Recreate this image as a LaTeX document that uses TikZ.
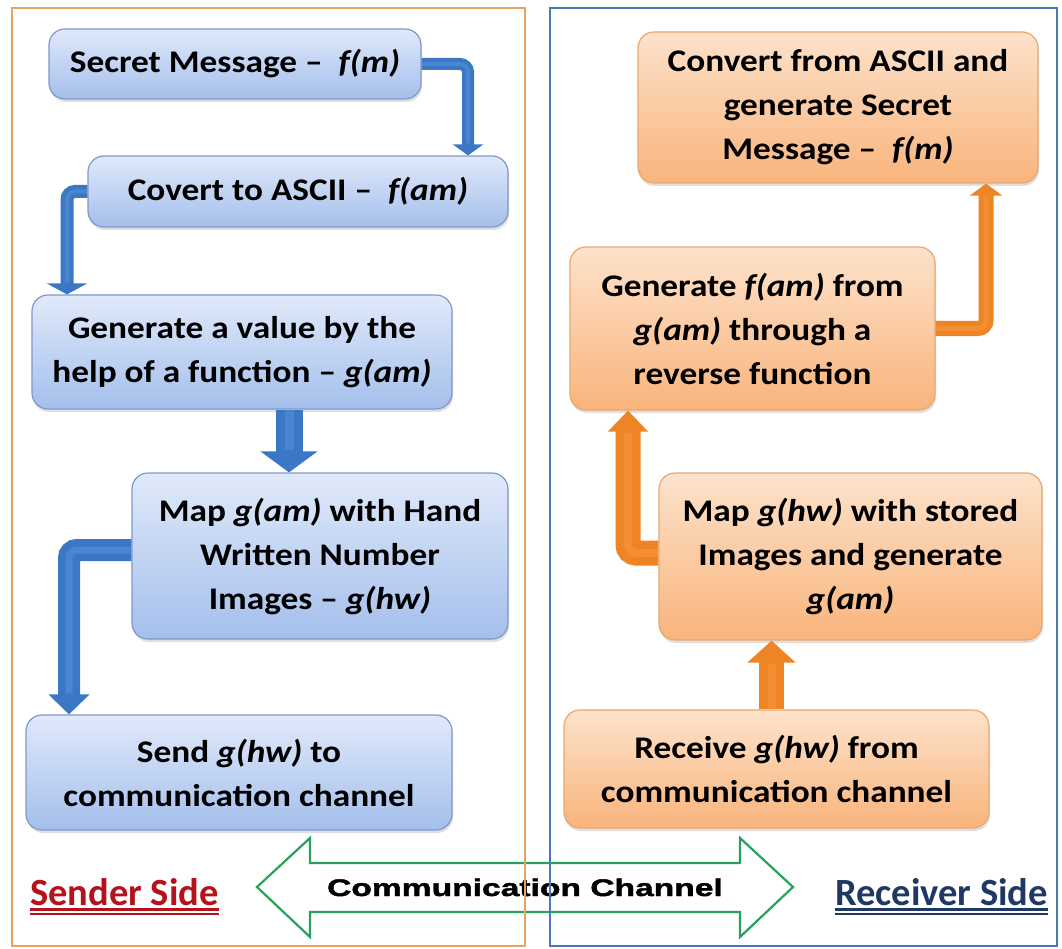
\documentclass[tikz,border=0pt]{standalone}
\usepackage{fontspec}
\setmainfont{Carlito}[FakeStretch=1.12]
\newfontfamily\labelfont{Carlito}
\newfontfamily\chanfont{Liberation Sans}[FakeStretch=1.40,BoldFeatures={FakeBold=1.8}]
\usetikzlibrary{arrows.meta,shadows}
\definecolor{bluetop}{HTML}{E0E9FA}
\definecolor{bluebot}{HTML}{A4BFEC}
\definecolor{blueedge}{HTML}{7F9AC9}
\definecolor{orgtop}{HTML}{FDE2CB}
\definecolor{orgbot}{HTML}{F9B47C}
\definecolor{orgedge}{HTML}{E9A870}
\definecolor{barrowc}{HTML}{3A78C6}
\definecolor{barrowhi}{HTML}{5C93DA}
\definecolor{oarrowc}{HTML}{EE8424}
\definecolor{oarrowhi}{HTML}{F59A40}
\definecolor{frameorg}{HTML}{E8A262}
\definecolor{frameblue}{HTML}{4A78BC}
\definecolor{chgreen}{HTML}{27A25A}
\definecolor{sendred}{HTML}{B5121B}
\definecolor{recvblue}{HTML}{1F3864}
\newcommand{\fx}[1]{\textit{#1}}
\tikzset{
  boxtext/.style={font={\fontsize{31.5}{44}\selectfont\bfseries}, align=center, inner sep=0pt, text=black},
  bluebox/.style={boxtext, rounded corners=16pt, draw=blueedge, line width=1.2pt,
    top color=bluetop, bottom color=bluebot,
    drop shadow={opacity=0.25, shadow xshift=1pt, shadow yshift=-3pt}},
  orgbox/.style={boxtext, rounded corners=16pt, draw=orgedge, line width=1.2pt,
    top color=orgtop, bottom color=orgbot,
    drop shadow={opacity=0.25, shadow xshift=1pt, shadow yshift=-3pt}},
  barrow/.style={draw=barrowc, rounded corners=8pt},
  oarrow/.style={draw=oarrowc, rounded corners=8pt},
  bhi/.style={draw=barrowhi, rounded corners=8pt, opacity=0.5},
  ohi/.style={draw=oarrowhi, rounded corners=8pt, opacity=0.5},
  sidelabel/.style={font={\labelfont\fontsize{38.5}{44}\selectfont\bfseries}, inner sep=0pt, anchor=base west},
}
\begin{document}
\begin{tikzpicture}[x=1pt,y=-1pt]
\useasboundingbox[fill=white] (0,0) rectangle (1062,949);

% ---------- sender boxes ----------
\node[bluebox, minimum width=372pt, minimum height=70pt] (s1) at (235,64) {Secret Message --\ \ \fx{f(m)}};
\node[bluebox, minimum width=420pt, minimum height=71pt] (s2) at (298,191.5) {Covert to ASCII --\ \ \fx{f(am)}};
\node[bluebox, minimum width=420pt, minimum height=114pt] (s3) at (242,352) {Generate a value by the\\help of a function -- \fx{g(am)}};
\node[bluebox, minimum width=376pt, minimum height=166pt] (s4) at (320,556) {Map \fx{g(am)} with Hand\\Written Number\\Images -- \fx{g(hw)}};
\node[bluebox, minimum width=426pt, minimum height=115pt] (s5) at (239,772.5) {Send \fx{g(hw)} to\\communication channel};

% ---------- receiver boxes ----------
\node[orgbox, minimum width=400pt, minimum height=151pt] (r1) at (838,107.5) {Convert from ASCII and\\generate Secret\\Message --\ \ \fx{f(m)}};
\node[orgbox, minimum width=365pt, minimum height=163pt] (r2) at (752.5,328.5) {Generate \fx{f(am)} from\\\fx{g(am)} through a\\reverse function};
\node[orgbox, minimum width=383pt, minimum height=167pt] (r3) at (850.5,556.5) {Map \fx{g(hw)} with stored\\Images and generate\\\fx{g(am)}};
\node[orgbox, minimum width=425pt, minimum height=118pt] (r4) at (776.5,769) {Receive \fx{g(hw)} from\\communication channel};

% ---------- blue connectors ----------
\draw[barrow, line width=12pt, -{Triangle[length=11pt,width=30pt]}] (s1.east) -| ([xshift=170pt]s2.north);
\draw[bhi, line width=4pt, shorten >=12pt] (s1.east) -| ([xshift=170pt]s2.north);
\draw[barrow, line width=13pt, -{Triangle[length=11pt,width=40pt]}] (s2.west) -| ([xshift=-175pt]s3.north);
\draw[bhi, line width=4pt, shorten >=12pt] (s2.west) -| ([xshift=-175pt]s3.north);
\draw[barrow, line width=27pt, -{Triangle[length=21pt,width=56pt]}] ([xshift=47pt]s3.south) -- ([xshift=-31pt]s4.north);
\draw[bhi, line width=9pt, shorten >=22pt] ([xshift=47pt]s3.south) -- ([xshift=-31pt]s4.north);
\draw[barrow, line width=22pt, -{Triangle[length=20pt,width=40pt]}] ([yshift=6pt]s4.west) -| ([xshift=-170pt]s5.north);
\draw[bhi, line width=7pt, shorten >=21pt] ([yshift=6pt]s4.west) -| ([xshift=-170pt]s5.north);

% ---------- orange connectors ----------
\draw[oarrow, line width=25pt, -{Triangle[length=22pt,width=47pt]}] ([xshift=-5pt]r4.north) -- ([xshift=-5pt]r4.north |- r3.south);
\draw[ohi, line width=8pt, shorten >=23pt] ([xshift=-5pt]r4.north) -- ([xshift=-5pt]r4.north |- r3.south);
\draw[oarrow, line width=25pt, -{Triangle[length=21pt,width=39pt]}] ([yshift=3.5pt]r3.west) -| ([xshift=-124.5pt]r2.south);
\draw[ohi, line width=8pt, shorten >=22pt] ([yshift=3.5pt]r3.west) -| ([xshift=-124.5pt]r2.south);
\draw[oarrow, line width=15pt, -{Triangle[length=12pt,width=32pt]}] (r2.east) -| ([xshift=148pt]r1.south);
\draw[ohi, line width=5pt, shorten >=13pt] (r2.east) -| ([xshift=148pt]r1.south);

% ---------- communication channel ----------
\draw[chgreen, line width=2.2pt, line join=miter, fill=white]
  (257,887) -- (310,838) -- (310,863) -- (740,863) -- (740,838) -- (793,887)
  -- (740,937) -- (740,912) -- (310,912) -- (310,937) -- cycle;
\node[font={\chanfont\fontsize{24}{28}\selectfont\bfseries}, anchor=base, inner sep=0pt] (ch) at (525,896) {Communication Channel};

% ---------- side labels ----------
\node[sidelabel, text=sendred] (sl) at (30,905) {Sender Side};
\draw[sendred, line width=3pt] ([yshift=-4pt]sl.base west) -- ([yshift=-4pt]sl.base east);
\draw[sendred, line width=1.4pt] ([yshift=-9pt]sl.base west) -- ([yshift=-9pt]sl.base east);
\node[sidelabel, text=recvblue] (rl) at (835,905) {Receiver Side};
\draw[recvblue, line width=3pt] ([yshift=-4pt]rl.base west) -- ([yshift=-4pt]rl.base east);
\draw[recvblue, line width=1.4pt] ([yshift=-9pt]rl.base west) -- ([yshift=-9pt]rl.base east);

% ---------- frames ----------
\draw[frameorg, line width=2pt] (12,8) rectangle (525,946);
\draw[frameblue, line width=2pt] (550,8) rectangle (1057,946);
\end{tikzpicture}
\end{document}
